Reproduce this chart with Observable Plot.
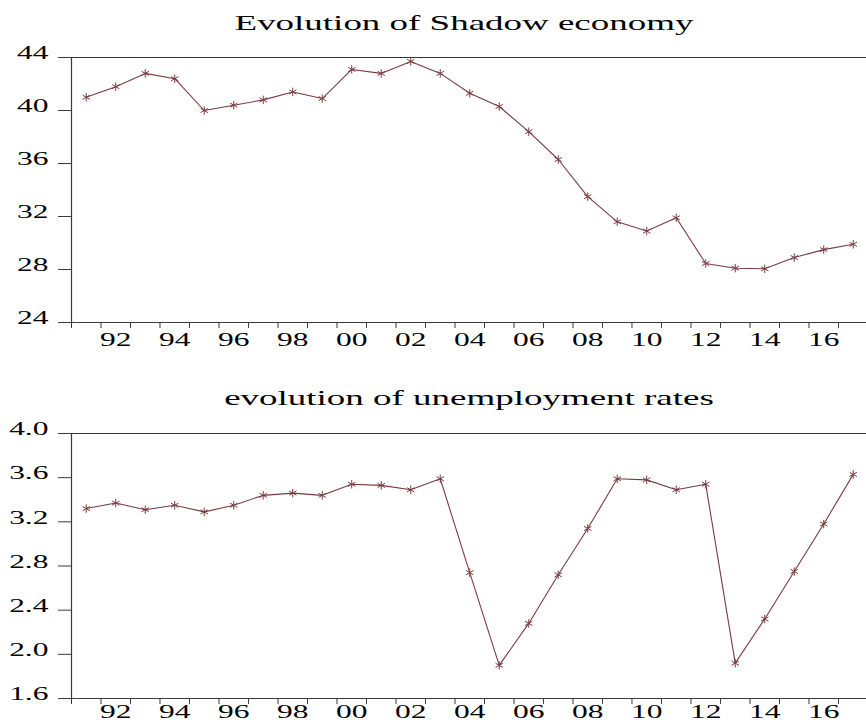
<!DOCTYPE html>
<html>
<head>
<meta charset="utf-8">
<script src="https://cdn.jsdelivr.net/npm/d3@7"></script>
<script src="https://cdn.jsdelivr.net/npm/@observablehq/plot@0.6"></script>
<style>
  html, body { margin: 0; padding: 0; background: #fff; }
  #wrap { position: relative; width: 866px; height: 722px; overflow: hidden; background: #fff; }
  .title {
    position: absolute; white-space: nowrap;
    font-family: "Liberation Serif", "Times New Roman", serif;
    font-size: 22px; line-height: 22px; color: #000;
    transform: translateX(-50%) scaleX(1.68);
  }
  .chart { position: absolute; left: 0; }
  .chart svg { display: block; }
</style>
</head>
<body>
<div id="wrap">
  <div class="title" id="t1" style="left:464px; top:12px;">Evolution of Shadow economy</div>
  <div class="title" id="t2" style="left:469px; top:387px;">evolution of unemployment rates</div>
  <div class="chart" id="c1" style="top:0px;"></div>
  <div class="chart" id="c2" style="top:361px;"></div>
</div>
<script>
// ---- data ----
const years = [1991, 1992, 1993, 1994, 1995, 1996, 1997, 1998, 1999, 2000,
               2001, 2002, 2003, 2004, 2005, 2006, 2007, 2008, 2009, 2010,
               2011, 2012, 2013, 2014, 2015, 2016, 2017];
const shadowEconomy = [41.0, 41.8, 42.8, 42.4, 40.0, 40.4, 40.8, 41.4, 40.9, 43.1,
                       42.8, 43.7, 42.8, 41.3, 40.3, 38.4, 36.3, 33.5, 31.6, 30.9,
                       31.9, 28.45, 28.1, 28.05, 28.9, 29.5, 29.9];
const unemploymentRate = [3.32, 3.37, 3.31, 3.35, 3.29, 3.35, 3.44, 3.46, 3.44, 3.54,
                          3.53, 3.49, 3.59, 2.74, 1.90, 2.28, 2.72, 3.14, 3.59, 3.58,
                          3.49, 3.54, 1.92, 2.32, 2.75, 3.18, 3.63];
const labelYears = [1992, 1994, 1996, 1998, 2000, 2002, 2004, 2006, 2008, 2010, 2012, 2014, 2016];
const shadowTicks = [24, 28, 32, 36, 40, 44];
const unempTicks = [1.6, 2.0, 2.4, 2.8, 3.2, 3.6, 4.0];

// ---- styling ----
const lineColor = "#7a3b40";
const axisColor = "#3a3a3a";
const textScale = 1.75;
const yearBoundaries = years.map(y => y - 0.5).concat([years[years.length - 1] + 0.5]);
const yearLabel = d => String(d % 100).padStart(2, "0");

function makeChart({values, yDomain, yTicks, yFormat, marginTop, marginBottom, xPad}) {
  const data = years.map((year, i) => ({year, value: values[i]}));
  const svg = Plot.plot({
    width: 866,
    height: 361,
    marginLeft: 71,
    marginRight: 0,
    marginTop,
    marginBottom,
    style: {fontFamily: "Liberation Serif, Times New Roman, serif", fontSize: "18px", color: "#000", background: "transparent", overflow: "visible"},
    x: {domain: [1990.5, 2017.45], label: null},
    y: {domain: yDomain, label: null},
    marks: [
      Plot.ruleY([yDomain[1]], {stroke: "#333", strokeWidth: 1.2}),
      Plot.ruleY([yDomain[0]], {stroke: axisColor, strokeWidth: 1.2}),
      Plot.ruleX([1990.5], {stroke: axisColor, strokeWidth: 1.2}),
      Plot.axisY(yTicks, {tickSize: 13, stroke: axisColor, tickFormat: () => ""}),
      Plot.axisY(yTicks, {tickSize: 0, tickPadding: 23, dy: -4, fill: "#000", tickFormat: yFormat}),
      Plot.axisX(yearBoundaries, {tickSize: 6, stroke: axisColor, tickFormat: () => ""}),
      Plot.axisX(labelYears, {tickSize: 0, tickPadding: xPad, fill: "#000", tickFormat: yearLabel}),
      Plot.line(data, {x: "year", y: "value", stroke: lineColor, strokeWidth: 1.1}),
      Plot.dot(data, {x: "year", y: "value", symbol: "asterisk", r: 4, stroke: lineColor, fill: "none", strokeWidth: 1})
    ]
  });
  // stretch tick-label glyphs horizontally, like the reference
  svg.querySelectorAll("text").forEach(t => {
    if (!t.textContent) return;
    const tr = t.getAttribute("transform") || "";
    t.setAttribute("transform", tr + ` scale(${textScale},1)`);
  });
  return svg;
}

document.getElementById("c1").appendChild(makeChart({
  values: shadowEconomy, yDomain: [24, 44], yTicks: shadowTicks,
  yFormat: d3.format("d"), marginTop: 57, marginBottom: 39, xPad: 11
}));
document.getElementById("c2").appendChild(makeChart({
  values: unemploymentRate, yDomain: [1.6, 4.0], yTicks: unempTicks,
  yFormat: d3.format(".1f"), marginTop: 72, marginBottom: 24, xPad: 7
}));
</script>
</body>
</html>
